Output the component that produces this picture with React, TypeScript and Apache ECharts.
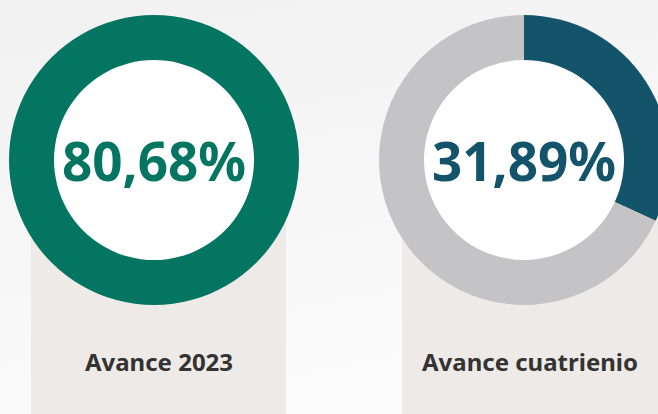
import React, { useEffect, useRef } from "react";
import * as echarts from "echarts";

const labels = ["Avance 2023", "Avance cuatrienio"];
const percents = [80.68, 31.89];
const ringProgress = [100, 31.89];
const mainColors = ["#037560", "#14546A"];
const restColor = "#C4C3C5";

const centers: [number, number][] = [
  [154, 160],
  [524, 160],
];

export default function App() {
  const ref = useRef<HTMLDivElement>(null);
  useEffect(() => {
    document.body.style.margin = "0";
    const chart = echarts.init(ref.current!, null, { renderer: "svg" });
    const series: any[] = [];
    percents.forEach((p, i) => {
      series.push({
        type: "pie",
        center: centers[i],
        radius: [100, 145],
        startAngle: 90,
        clockwise: true,
        silent: true,
        label: { show: false },
        labelLine: { show: false },
        emphasis: { disabled: true },
        z: 3,
        data: [
          { value: ringProgress[i], itemStyle: { color: mainColors[i] } },
          { value: 100 - ringProgress[i], itemStyle: { color: restColor } },
        ],
      });
      series.push({
        type: "pie",
        center: centers[i],
        radius: [0, 100.5],
        silent: true,
        z: 2,
        label: {
          show: true,
          position: "center",
          formatter: () => p.toFixed(2).replace(".", ",") + "%",
          color: mainColors[i],
          fontFamily: "Noto Sans",
          fontWeight: "bold",
          fontSize: 53,
        },
        labelLine: { show: false },
        emphasis: { disabled: true },
        data: [{ value: 1, itemStyle: { color: "#FFFFFF" } }],
      });
    });
    const panels = [
      { x: 31, w: 255, cx: 159 },
      { x: 402, w: 256, cx: 530 },
    ];
    chart.setOption({
      animation: false,
      backgroundColor: new echarts.graphic.LinearGradient(0, 0, 0.3, 1, [
        { offset: 0, color: "#F1F1F1" },
        { offset: 1, color: "#FBFBFB" },
      ]),
      graphic: [
        ...panels.map((pn) => ({
          type: "rect",
          z: 0,
          shape: { x: pn.x, y: 215, width: pn.w, height: 200 },
          style: { fill: "#EEEAE7" },
          silent: true,
        })),
        ...panels.map((pn, i) => ({
          type: "text",
          z: 10,
          x: pn.cx,
          y: 361,
          style: {
            text: labels[i],
            fill: "#333333",
            font: "bold 24px 'Noto Sans'",
            textAlign: "center",
            textVerticalAlign: "middle",
          },
        })),
      ],
      series,
    });
    return () => chart.dispose();
  }, []);
  return (
    <div
      ref={ref}
      style={{ position: "absolute", left: 0, top: 0, width: 658, height: 414 }}
    />
  );
}
